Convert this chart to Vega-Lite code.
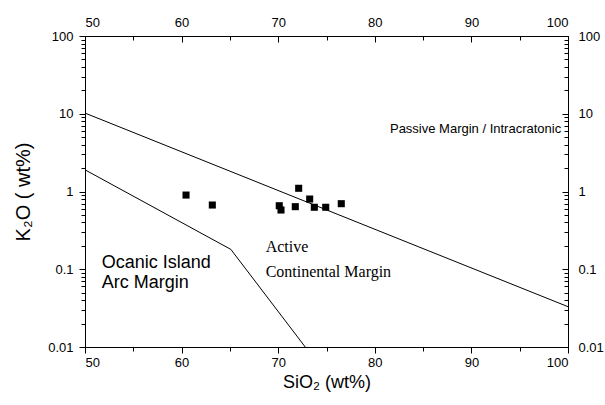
{
  "$schema": "https://vega.github.io/schema/vega-lite/v6.json",
  "width": 483,
  "height": 311,
  "autosize": {"type": "none"},
  "padding": {"left": 85, "top": 36, "right": 37, "bottom": 58},
  "background": "white",
  "config": {
    "view": {"stroke": null},
    "axis": {
      "domainColor": "black",
      "tickColor": "black",
      "labelColor": "black",
      "titleColor": "black",
      "labelFont": "Liberation Sans",
      "titleFont": "Liberation Sans",
      "labelFontSize": 13,
      "titleFontSize": 18,
      "titleFontWeight": "normal",
      "grid": false,
      "domainWidth": 1,
      "tickWidth": 1
    }
  },
  "resolve": {"axis": {"x": "independent", "y": "independent"}},
  "layer": [
    {
      "description": "Discriminant boundaries between the tectonic fields; carries the labelled bottom and left axes",
      "data": {
        "values": [
          {"seg": "PM-ACM", "sio2": 50, "k2o": 10.2},
          {"seg": "PM-ACM", "sio2": 100, "k2o": 0.033},
          {"seg": "ACM-ARC", "sio2": 50, "k2o": 1.9},
          {"seg": "ACM-ARC", "sio2": 65.1, "k2o": 0.18},
          {"seg": "ACM-ARC", "sio2": 72.8, "k2o": 0.01}
        ]
      },
      "mark": {"type": "line", "color": "black", "strokeWidth": 1, "clip": true},
      "encoding": {
        "detail": {"field": "seg"},
        "order": {"field": "sio2", "type": "quantitative"},
        "x": {
          "field": "sio2", "type": "quantitative",
          "scale": {"domain": [50, 100], "nice": false, "zero": false},
          "axis": {
            "orient": "bottom",
            "title": "SiO₂ (wt%)",
            "values": [50, 60, 70, 80, 90, 100],
            "tickSize": 6,
            "labelPadding": 3,
            "titlePadding": 4
          }
        },
        "y": {
          "field": "k2o", "type": "quantitative",
          "scale": {"type": "log", "domain": [0.01, 100], "nice": false},
          "axis": {
            "orient": "left",
            "title": "K₂O ( wt%)",
            "titleFontSize": 20,
            "format": "~g",
            "values": [0.01, 0.1, 1, 10, 100],
            "tickSize": 6,
            "labelPadding": 6,
            "titlePadding": 14
          }
        }
      }
    },
    {
      "description": "Sample compositions; carries the labelled top and right axes with inward ticks",
      "data": {
        "values": [
          {"sio2": 60.46, "k2o": 0.90},
          {"sio2": 63.18, "k2o": 0.67},
          {"sio2": 70.11, "k2o": 0.656},
          {"sio2": 70.29, "k2o": 0.578},
          {"sio2": 71.77, "k2o": 0.638},
          {"sio2": 72.12, "k2o": 1.10},
          {"sio2": 73.26, "k2o": 0.80},
          {"sio2": 73.74, "k2o": 0.627},
          {"sio2": 74.92, "k2o": 0.627},
          {"sio2": 76.53, "k2o": 0.697}
        ]
      },
      "mark": {"type": "point", "shape": "square", "filled": true, "color": "black", "opacity": 1, "size": 50},
      "encoding": {
        "x": {
          "field": "sio2", "type": "quantitative",
          "scale": {"domain": [50, 100], "nice": false, "zero": false},
          "axis": {
            "orient": "top",
            "title": null,
            "values": [50, 60, 70, 80, 90, 100],
            "tickSize": -6,
            "labelPadding": 13
          }
        },
        "y": {
          "field": "k2o", "type": "quantitative",
          "scale": {"type": "log", "domain": [0.01, 100], "nice": false},
          "axis": {
            "orient": "right",
            "title": null,
            "format": "~g",
            "values": [0.01, 0.1, 1, 10, 100],
            "tickSize": -6,
            "labelPadding": 16
          }
        }
      }
    },
    {
      "description": "Field names in a sans-serif face; carries the minor ticks of the bottom and left axes",
      "data": {
        "values": [
          {"label": "Passive Margin / Intracratonic", "sio2": 81.57, "k2o": 6.37, "size": "small"},
          {"label": "Ocanic Island", "sio2": 51.73, "k2o": 0.119, "size": "large"},
          {"label": "Arc Margin", "sio2": 51.73, "k2o": 0.0659, "size": "large"}
        ]
      },
      "mark": {"type": "text", "align": "left", "baseline": "middle", "font": "Liberation Sans", "color": "black"},
      "encoding": {
        "text": {"field": "label"},
        "size": {"field": "size", "type": "nominal", "scale": {"domain": ["small", "large"], "range": [13, 18]}, "legend": null},
        "x": {
          "field": "sio2", "type": "quantitative",
          "scale": {"domain": [50, 100], "nice": false, "zero": false},
          "axis": {"orient": "bottom", "title": null, "values": [55, 65, 75, 85, 95], "labels": false, "domain": false, "tickSize": 4}
        },
        "y": {
          "field": "k2o", "type": "quantitative",
          "scale": {"type": "log", "domain": [0.01, 100], "nice": false},
          "axis": {
            "orient": "left", "title": null, "labels": false, "domain": false, "tickSize": 4,
            "values": [0.02, 0.03, 0.04, 0.05, 0.06, 0.07, 0.08, 0.09, 0.2, 0.3, 0.4, 0.5, 0.6, 0.7, 0.8, 0.9, 2, 3, 4, 5, 6, 7, 8, 9, 20, 30, 40, 50, 60, 70, 80, 90]
          }
        }
      }
    },
    {
      "description": "Field name in a serif face; carries the inward minor ticks of the top and right axes",
      "data": {
        "values": [
          {"label": "Active", "sio2": 68.7, "k2o": 0.193},
          {"label": "Continental Margin", "sio2": 68.7, "k2o": 0.0931}
        ]
      },
      "mark": {"type": "text", "align": "left", "baseline": "middle", "font": "Liberation Serif", "fontSize": 16, "color": "black"},
      "encoding": {
        "text": {"field": "label"},
        "x": {
          "field": "sio2", "type": "quantitative",
          "scale": {"domain": [50, 100], "nice": false, "zero": false},
          "axis": {"orient": "top", "title": null, "values": [55, 65, 75, 85, 95], "labels": false, "domain": false, "tickSize": -4}
        },
        "y": {
          "field": "k2o", "type": "quantitative",
          "scale": {"type": "log", "domain": [0.01, 100], "nice": false},
          "axis": {
            "orient": "right", "title": null, "labels": false, "domain": false, "tickSize": -4,
            "values": [0.02, 0.03, 0.04, 0.05, 0.06, 0.07, 0.08, 0.09, 0.2, 0.3, 0.4, 0.5, 0.6, 0.7, 0.8, 0.9, 2, 3, 4, 5, 6, 7, 8, 9, 20, 30, 40, 50, 60, 70, 80, 90]
          }
        }
      }
    }
  ]
}
